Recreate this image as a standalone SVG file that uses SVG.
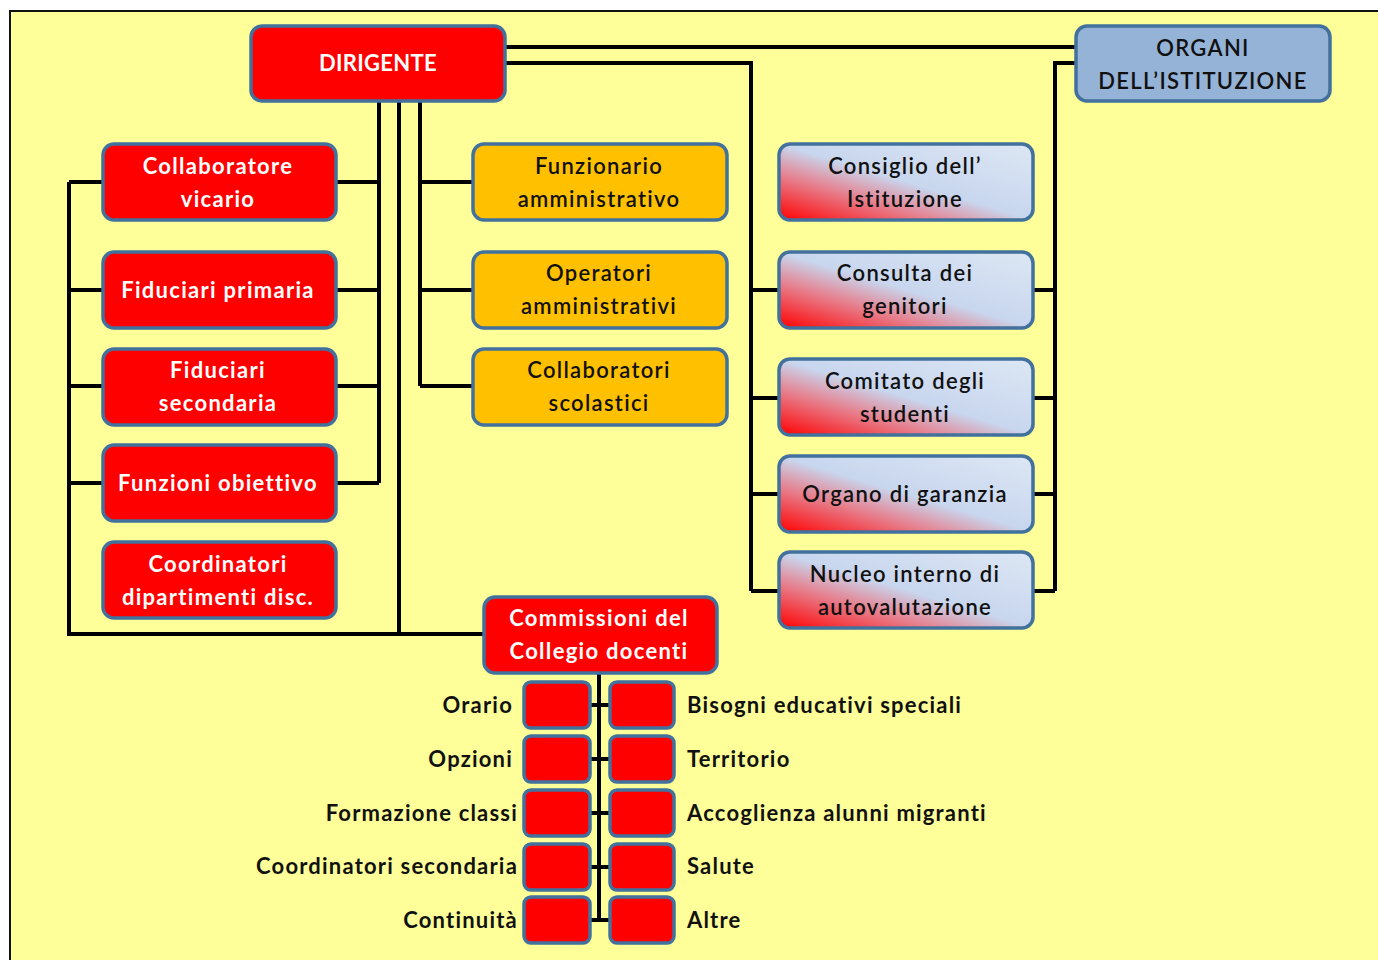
<svg xmlns="http://www.w3.org/2000/svg" width="1378" height="960" viewBox="0 0 1378 960">
  <defs>
    <linearGradient id="organGrad" x1="0" y1="1" x2="1" y2="0">
      <stop offset="0" stop-color="#FF0000"/>
      <stop offset="0.3" stop-color="#E6808E"/>
      <stop offset="0.5" stop-color="#C8D6EE"/>
      <stop offset="1" stop-color="#DDE7F4"/>
    </linearGradient>
  </defs>
  <style>
    .box { stroke: #41719C; stroke-width: 3.5; }
    .red { fill: #FF0000; }
    .orange { fill: #FFC000; }
    .blue { fill: #95B3D7; }
    .grad { fill: url(#organGrad); }
    .wire { fill: none; stroke: #000; stroke-width: 4; }
    text { font-family: Lato, "Open Sans", "Liberation Sans", sans-serif; font-size: 22px; text-anchor: middle; font-variant-ligatures: none; letter-spacing: 1.3px; }
    .w { fill: #FFFFFF; font-weight: bold; }
    .k { fill: #111111; font-weight: 600; }
    .lbl { fill: #111111; font-weight: bold; letter-spacing: 1.2px; }
    .lbl-l { text-anchor: end; }
    .lbl-r { text-anchor: start; }
    .tight { letter-spacing: 0.3px; }
  </style>

  <!-- page background and frame -->
  <rect x="0" y="0" width="1378" height="960" fill="#FFFFFF"/>
  <rect x="10" y="11" width="1380" height="960" fill="#FFFF99" stroke="#111" stroke-width="2"/>

  <!-- connectors -->
  <g id="connectors" class="wire">
    <path d="M505,47 H1076"/>
    <path d="M505,63 H751 V591"/>
    <path d="M751,290 H779 M751,398 H779 M751,494 H779 M751,591 H779"/>
    <path d="M1076,63 H1055 V591"/>
    <path d="M1033,290 H1055 M1033,398 H1055 M1033,494 H1055 M1033,591 H1055"/>
    <path d="M379,101 V483"/>
    <path d="M336,182 H379 M336,290 H379 M336,386 H379 M336,483 H379"/>
    <path d="M399,101 V634"/>
    <path d="M69,182 V634 H485"/>
    <path d="M69,182 H103 M69,290 H103 M69,386 H103 M69,483 H103"/>
    <path d="M420,101 V386"/>
    <path d="M420,182 H473 M420,290 H473 M420,386 H473"/>
    <path d="M599,673 V920"/>
    <path d="M590,705 H610 M590,759 H610 M590,813 H610 M590,867 H610 M590,920 H610"/>
  </g>

  <!-- top level -->
  <g id="dirigente">
    <rect class="box red" x="251" y="26" width="254" height="75" rx="11"/>
    <text class="w tight" x="378" y="71">DIRIGENTE</text>
  </g>
  <g id="organi">
    <rect class="box blue" x="1076" y="26" width="254" height="75" rx="11"/>
    <text class="k" x="1203" y="56">ORGANI</text>
    <text class="k" x="1203" y="89">DELL’ISTITUZIONE</text>
  </g>

  <!-- staff on the left -->
  <g id="collaboratore-vicario">
    <rect class="box red" x="103" y="144" width="233" height="76" rx="11"/>
    <text class="w" x="218" y="174">Collaboratore</text>
    <text class="w" x="218" y="207">vicario</text>
  </g>
  <g id="fiduciari-primaria">
    <rect class="box red" x="103" y="252" width="233" height="76" rx="11"/>
    <text class="w" x="218" y="298">Fiduciari primaria</text>
  </g>
  <g id="fiduciari-secondaria">
    <rect class="box red" x="103" y="349" width="233" height="76" rx="11"/>
    <text class="w" x="218" y="378">Fiduciari</text>
    <text class="w" x="218" y="411">secondaria</text>
  </g>
  <g id="funzioni-obiettivo">
    <rect class="box red" x="103" y="445" width="233" height="76" rx="11"/>
    <text class="w" x="218" y="491">Funzioni obiettivo</text>
  </g>
  <g id="coordinatori-dipartimenti">
    <rect class="box red" x="103" y="542" width="233" height="76" rx="11"/>
    <text class="w" x="218" y="572">Coordinatori</text>
    <text class="w" x="218" y="605">dipartimenti disc.</text>
  </g>

  <!-- administrative staff -->
  <g id="funzionario-amministrativo">
    <rect class="box orange" x="473" y="144" width="254" height="76" rx="11"/>
    <text class="k" x="599" y="174">Funzionario</text>
    <text class="k" x="599" y="207">amministrativo</text>
  </g>
  <g id="operatori-amministrativi">
    <rect class="box orange" x="473" y="252" width="254" height="76" rx="11"/>
    <text class="k" x="599" y="281">Operatori</text>
    <text class="k" x="599" y="314">amministrativi</text>
  </g>
  <g id="collaboratori-scolastici">
    <rect class="box orange" x="473" y="349" width="254" height="76" rx="11"/>
    <text class="k" x="599" y="378">Collaboratori</text>
    <text class="k" x="599" y="411">scolastici</text>
  </g>

  <!-- institutional bodies -->
  <g id="consiglio-istituzione">
    <rect class="box grad" x="779" y="144" width="254" height="76" rx="11"/>
    <text class="k" x="905" y="174">Consiglio dell’</text>
    <text class="k" x="905" y="207">Istituzione</text>
  </g>
  <g id="consulta-genitori">
    <rect class="box grad" x="779" y="252" width="254" height="76" rx="11"/>
    <text class="k" x="905" y="281">Consulta dei</text>
    <text class="k" x="905" y="314">genitori</text>
  </g>
  <g id="comitato-studenti">
    <rect class="box grad" x="779" y="359" width="254" height="76" rx="11"/>
    <text class="k" x="905" y="389">Comitato degli</text>
    <text class="k" x="905" y="422">studenti</text>
  </g>
  <g id="organo-garanzia">
    <rect class="box grad" x="779" y="456" width="254" height="76" rx="11"/>
    <text class="k" x="905" y="502">Organo di garanzia</text>
  </g>
  <g id="nucleo-autovalutazione">
    <rect class="box grad" x="779" y="552" width="254" height="76" rx="11"/>
    <text class="k" x="905" y="582">Nucleo interno di</text>
    <text class="k" x="905" y="615">autovalutazione</text>
  </g>

  <!-- committees -->
  <g id="commissioni">
    <rect class="box red" x="484" y="597" width="233" height="76" rx="11"/>
    <text class="w" x="599" y="626">Commissioni del</text>
    <text class="w" x="599" y="659">Collegio docenti</text>
  </g>

  <g id="orario">
    <rect class="box red" x="524" y="682" width="66" height="46" rx="7"/>
    <text class="lbl lbl-l" x="513" y="713">Orario</text>
  </g>
  <g id="opzioni">
    <rect class="box red" x="524" y="736" width="66" height="46" rx="7"/>
    <text class="lbl lbl-l" x="513" y="767">Opzioni</text>
  </g>
  <g id="formazione-classi">
    <rect class="box red" x="524" y="790" width="66" height="46" rx="7"/>
    <text class="lbl lbl-l" x="518" y="821">Formazione classi</text>
  </g>
  <g id="coordinatori-secondaria">
    <rect class="box red" x="524" y="844" width="66" height="46" rx="7"/>
    <text class="lbl lbl-l" x="518" y="874">Coordinatori secondaria</text>
  </g>
  <g id="continuita">
    <rect class="box red" x="524" y="897" width="66" height="46" rx="7"/>
    <text class="lbl lbl-l" x="518" y="928">Continuità</text>
  </g>

  <g id="bisogni-educativi">
    <rect class="box red" x="610" y="682" width="64" height="46" rx="7"/>
    <text class="lbl lbl-r" x="687" y="713">Bisogni educativi speciali</text>
  </g>
  <g id="territorio">
    <rect class="box red" x="610" y="736" width="64" height="46" rx="7"/>
    <text class="lbl lbl-r" x="687" y="767">Territorio</text>
  </g>
  <g id="accoglienza">
    <rect class="box red" x="610" y="790" width="64" height="46" rx="7"/>
    <text class="lbl lbl-r" x="687" y="821">Accoglienza alunni migranti</text>
  </g>
  <g id="salute">
    <rect class="box red" x="610" y="844" width="64" height="46" rx="7"/>
    <text class="lbl lbl-r" x="687" y="874">Salute</text>
  </g>
  <g id="altre">
    <rect class="box red" x="610" y="897" width="64" height="46" rx="7"/>
    <text class="lbl lbl-r" x="687" y="928">Altre</text>
  </g>
</svg>
